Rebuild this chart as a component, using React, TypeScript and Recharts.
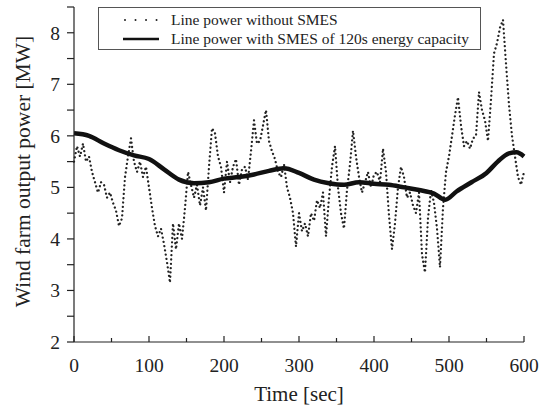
import React from 'react';
import { LineChart, Line, XAxis, YAxis } from 'recharts';

// Line power without SMES, sampled every 4 s from 0 to 600 s
const RAW_STEP = 4;
const RAW_POWER = [
  5.5, 5.8, 5.6, 5.85, 5.5, 5.6, 5.3, 5.1, 4.9, 5.1,
  5.05, 4.8, 4.9, 4.7, 4.55, 4.25, 4.4, 5.2, 5.6, 5.95,
  5.5, 5.3, 5.5, 5.2, 5.4, 5.0, 4.6, 4.25, 4.05, 4.2,
  3.9, 3.55, 3.15, 4.3, 3.8, 4.3, 4.0, 4.6, 5.3, 5.05,
  4.8, 5.05, 4.65, 5.0, 4.55, 5.4, 6.15, 6.05, 5.6, 5.4,
  4.9, 5.5, 5.1, 5.4, 5.55, 5.05, 5.35, 5.4, 5.15, 5.7,
  6.3, 5.85, 5.9, 6.2, 6.5, 5.9, 5.7, 5.55, 5.3, 5.2,
  5.45, 5.0, 4.8, 4.5, 3.85, 4.5, 4.15, 4.3, 4.05, 4.5,
  4.35, 4.75, 4.6, 4.9, 4.05, 4.8, 5.4, 5.8, 5.0, 4.5,
  4.2, 4.95, 5.45, 6.1, 5.6, 5.2, 4.9, 5.1, 5.3, 5.0,
  5.25, 5.3, 5.1, 5.75, 5.3, 4.45, 3.8, 4.3, 5.0, 5.4,
  5.2, 4.8, 4.9, 4.65, 4.5, 4.9, 3.7, 3.35, 4.4, 4.95,
  4.7, 4.2, 3.45, 4.6, 5.3, 5.6, 6.0, 6.4, 6.75, 6.2,
  5.8, 5.9, 5.75, 5.95, 6.0, 6.85, 6.5, 6.3, 5.9, 6.7,
  7.6, 7.8, 8.1, 8.25, 7.4, 6.6, 6.0, 5.6, 5.2, 5.05,
  5.3,
];

// Line power with SMES of 120s energy capacity
const SMES_TIME = [
  0, 20, 40, 60, 80, 100, 120, 140, 160, 180, 200, 220, 240, 260, 280,
  300, 320, 340, 360, 380, 400, 420, 440, 460, 480, 495, 510, 530, 550,
  565, 580, 590, 600,
];
const SMES_POWER = [
  6.05, 6.0, 5.85, 5.72, 5.62, 5.55, 5.35, 5.15, 5.08, 5.1, 5.17, 5.2, 5.25, 5.32, 5.37,
  5.28, 5.15, 5.08, 5.05, 5.1, 5.07, 5.05, 5.0, 4.95, 4.88, 4.76, 4.92, 5.1, 5.28,
  5.5, 5.66, 5.68, 5.6,
];

const X_TICKS = [0, 50, 100, 150, 200, 250, 300, 350, 400, 450, 500, 550, 600];
const Y_TICKS = [2, 2.5, 3, 3.5, 4, 4.5, 5, 5.5, 6, 6.5, 7, 7.5, 8, 8.5];

const rawData = RAW_POWER.map((v, i) => ({ t: i * RAW_STEP, v }));
const smesData = SMES_TIME.map((t, i) => ({ t, v: SMES_POWER[i] }));

const FONT = '"Liberation Serif", "Times New Roman", serif';
const INK = '#222';

const XTick = (props: any) => {
  const { x, y, payload } = props;
  const major = payload.value % 100 === 0;
  return (
    <g>
      <line x1={x} x2={x} y1={y} y2={y - (major ? 6 : 4)} stroke={INK} strokeWidth={1.2} />
      {major && (
        <text x={x} y={y + 30} textAnchor="middle" fontFamily={FONT} fontSize={19.5} fill={INK}>
          {payload.value}
        </text>
      )}
    </g>
  );
};

const YTick = (props: any) => {
  const { x, y, payload } = props;
  const major = Number.isInteger(payload.value);
  return (
    <g>
      <line x1={x} x2={x - 7} y1={y} y2={y} stroke={INK} strokeWidth={1.2} />
      {major && (
        <text x={x - 14} y={y + 7} textAnchor="end" fontFamily={FONT} fontSize={19.5} fill={INK}>
          {payload.value}
        </text>
      )}
    </g>
  );
};

const LegendBox = () => (
  <div
    style={{
      position: 'absolute',
      left: 98,
      top: 7,
      border: '1px solid #555',
      width: 383,
      height: 43,
      boxSizing: 'border-box',
      fontFamily: FONT,
      fontSize: 15.5,
      color: INK,
      padding: '2px 0 0 24px',
      lineHeight: '19px',
      background: '#fff',
    }}
  >
    <div style={{ display: 'flex', alignItems: 'center' }}>
      <svg width={36} height={10} style={{ marginRight: 12 }}>
        <line x1={2} x2={34} y1={5} y2={5} stroke={INK} strokeWidth={2} strokeDasharray="0.01 10.5" strokeLinecap="round" />
      </svg>
      <span>Line power without SMES</span>
    </div>
    <div style={{ display: 'flex', alignItems: 'center' }}>
      <svg width={36} height={10} style={{ marginRight: 12 }}>
        <line x1={0} x2={36} y1={5} y2={5} stroke="#111" strokeWidth={2.5} />
      </svg>
      <span>Line power with SMES of 120s energy capacity</span>
    </div>
  </div>
);

export default function App() {
  return (
    <div style={{ position: 'absolute', left: 0, top: 0, width: 546, height: 408, background: '#fff' }}>
      <LineChart width={546} height={408} margin={{ top: 7, right: 22, bottom: 0, left: 0 }}>
        <XAxis
          type="number"
          dataKey="t"
          domain={[0, 600]}
          ticks={X_TICKS}
          interval={0}
          tick={<XTick />}
          tickLine={false}
          tickSize={0}
          tickMargin={0}
          axisLine={{ stroke: INK, strokeWidth: 1.2 }}
          height={66}
          label={{ value: 'Time [sec]', position: 'insideBottom', offset: 7, fontFamily: FONT, fontSize: 21, fill: INK }}
        />
        <YAxis
          type="number"
          domain={[2, 8.5]}
          ticks={Y_TICKS}
          interval={0}
          tick={<YTick />}
          tickLine={false}
          tickSize={0}
          tickMargin={0}
          axisLine={{ stroke: INK, strokeWidth: 1.2 }}
          width={74}
          label={{ value: 'Wind farm output power [MW]', angle: -90, position: 'center', dx: -15, dy: -3, fontFamily: FONT, fontSize: 21.5, fill: INK }}
        />
        <Line
          data={rawData}
          dataKey="v"
          type="linear"
          stroke={INK}
          strokeWidth={2.3}
          strokeDasharray="0.01 4.3"
          strokeLinecap="round"
          dot={false}
          isAnimationActive={false}
        />
        <Line
          data={smesData}
          dataKey="v"
          type="monotone"
          stroke="#111"
          strokeWidth={4.5}
          dot={false}
          isAnimationActive={false}
        />
      </LineChart>
      <LegendBox />
    </div>
  );
}
